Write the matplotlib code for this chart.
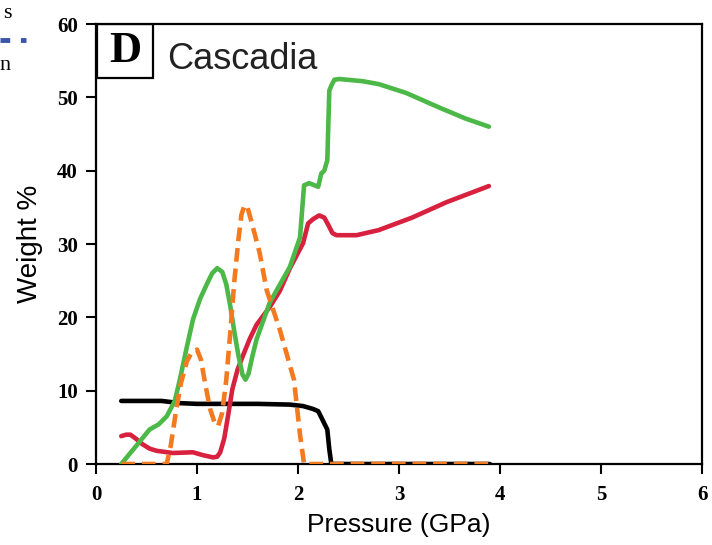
import numpy as np
import matplotlib
matplotlib.use("Agg")
import matplotlib.pyplot as plt
import matplotlib.patches as mpatch

## curves (pressure in GPa, weight %)
p_black = [0.25, 0.45, 0.65, 0.83, 1.0, 1.3, 1.6, 1.92, 2.05, 2.15, 2.2, 2.24, 2.29, 2.31, 2.33, 2.5, 3.0, 3.5, 3.9]
w_black = [8.6, 8.6, 8.6, 8.3, 8.2, 8.2, 8.2, 8.1, 7.9, 7.5, 7.2, 6.1, 4.7, 2.0, 0.0, 0.0, 0.0, 0.0, 0.0]

p_red = [0.25, 0.3, 0.34, 0.4, 0.46, 0.53, 0.6, 0.76, 0.96, 1.06, 1.16, 1.2, 1.23, 1.27, 1.31, 1.35, 1.4,
         1.45, 1.52, 1.59, 1.72, 1.82, 1.92, 2.05, 2.1, 2.15, 2.21, 2.26, 2.3, 2.34, 2.38, 2.58, 2.8,
         3.13, 3.47, 3.89]
w_red = [3.8, 4.0, 4.0, 3.4, 2.7, 2.1, 1.8, 1.5, 1.6, 1.2, 0.9, 1.0, 1.6, 3.5, 6.8, 10.2, 12.8,
         14.6, 17.0, 19.0, 21.4, 23.6, 26.7, 30.1, 32.8, 33.4, 33.9, 33.6, 32.6, 31.5, 31.2, 31.2, 31.9,
         33.6, 35.7, 37.9]

p_green = [0.25, 0.4, 0.53, 0.62, 0.7, 0.78, 0.83, 0.9, 0.96, 1.03, 1.1, 1.15, 1.2, 1.25, 1.29, 1.33,
           1.37, 1.41, 1.45, 1.48, 1.51, 1.55, 1.59, 1.72, 1.92, 2.02, 2.06, 2.11, 2.2, 2.23, 2.26,
           2.29, 2.31, 2.33, 2.36, 2.41, 2.64, 2.8, 3.07, 3.4, 3.66, 3.89]
w_green = [0.0, 2.5, 4.7, 5.4, 6.5, 8.6, 11.5, 16.0, 19.7, 22.5, 24.6, 26.0, 26.7, 26.2, 24.5, 21.5,
           18.0, 14.8, 12.2, 11.5, 12.3, 14.8, 17.0, 22.0, 26.9, 30.9, 38.0, 38.3, 37.8, 39.6, 40.0,
           41.4, 50.9, 51.6, 52.4, 52.5, 52.2, 51.8, 50.6, 48.6, 47.1, 46.0]

p_orange = [0.25, 0.5, 0.7, 0.74, 0.79, 0.84, 0.9, 0.95, 1.0, 1.04, 1.08, 1.13, 1.18, 1.21, 1.25,
            1.29, 1.33, 1.37, 1.41, 1.44, 1.47, 1.5, 1.54, 1.62, 1.69, 1.82, 1.96, 2.02, 2.06, 2.5,
            3.0, 3.5, 3.9]
w_orange = [0.0, 0.0, 0.0, 2.5, 7.0, 11.0, 14.0, 15.3, 15.6, 14.2, 11.0, 7.5, 5.4, 5.2, 7.0,
            11.5, 18.0, 25.0, 30.6, 34.0, 35.3, 35.0, 33.0, 28.8, 23.7, 18.3, 11.5, 4.0, 0.0, 0.0,
            0.0, 0.0, 0.0]

x_ticks = [0, 1, 2, 3, 4, 5, 6]
y_ticks = [0, 10, 20, 30, 40, 50, 60]

fig = plt.figure(figsize=(7.12, 5.45), dpi=100)
ax = fig.add_axes([96 / 712, 1 - 464 / 545, 606 / 712, 440 / 545])

ax.plot(p_black, w_black, color='black', lw=3.3, solid_capstyle='round', solid_joinstyle='round', zorder=2)
ax.plot(p_red, w_red, color='#d8203f', lw=3.3, solid_capstyle='round', solid_joinstyle='round', zorder=3)
ax.plot(p_green, w_green, color='#4cb847', lw=3.3, solid_capstyle='round', solid_joinstyle='round', zorder=4)
ax.plot(p_orange, w_orange, color='#f47a20', lw=3.3, dashes=(3, 1.5), zorder=5)

ax.set_xlim(0, 6)
ax.set_ylim(0, 60)
ax.set_xticks(x_ticks)
ax.set_yticks(y_ticks)
ax.tick_params(direction='out', length=7, width=1.5, top=False, right=False)
ax.tick_params(axis='x', pad=8)
ax.tick_params(axis='y', pad=6)
for lab in ax.get_xticklabels() + ax.get_yticklabels():
    lab.set_fontfamily('Liberation Serif')
    lab.set_fontweight('bold')
    lab.set_fontsize(15)
for s in ax.spines.values():
    s.set_linewidth(1.6)

ax.set_xlabel('Pressure (GPa)', fontsize=19, family='Liberation Sans', labelpad=6)
ax.set_ylabel('Weight %', fontsize=20, family='Liberation Sans', labelpad=10)

## panel letter box
box = mpatch.Rectangle((0.002, 0.878), 0.092, 0.122, transform=ax.transAxes,
                       fill=False, lw=1.6, color='black', zorder=6)
ax.add_patch(box)
ax.text(0.048, 0.939, 'D', transform=ax.transAxes, ha='center', va='center',
        fontsize=32, fontweight='bold', family='Liberation Serif')
ax.text(0.117, 0.898, 'Cascadia', transform=ax.transAxes, ha='left', va='baseline',
        fontsize=26, family='Liberation Sans', color='#222222')

## cut-off legend of the neighbouring panel
fig.text(7 / 712, 1 - 14 / 545, 's', ha='center', va='center', fontsize=16, family='Liberation Serif')
fig.add_artist(plt.Line2D([0, 26 / 712], [1 - 40 / 545, 1 - 40 / 545], color='#3b55a8',
                          lw=3.5, dashes=(2, 2.2), transform=fig.transFigure))
fig.text(5 / 712, 1 - 66 / 545, 'n', ha='center', va='center', fontsize=16, family='Liberation Serif')

fig.savefig('out.png', dpi=100)
